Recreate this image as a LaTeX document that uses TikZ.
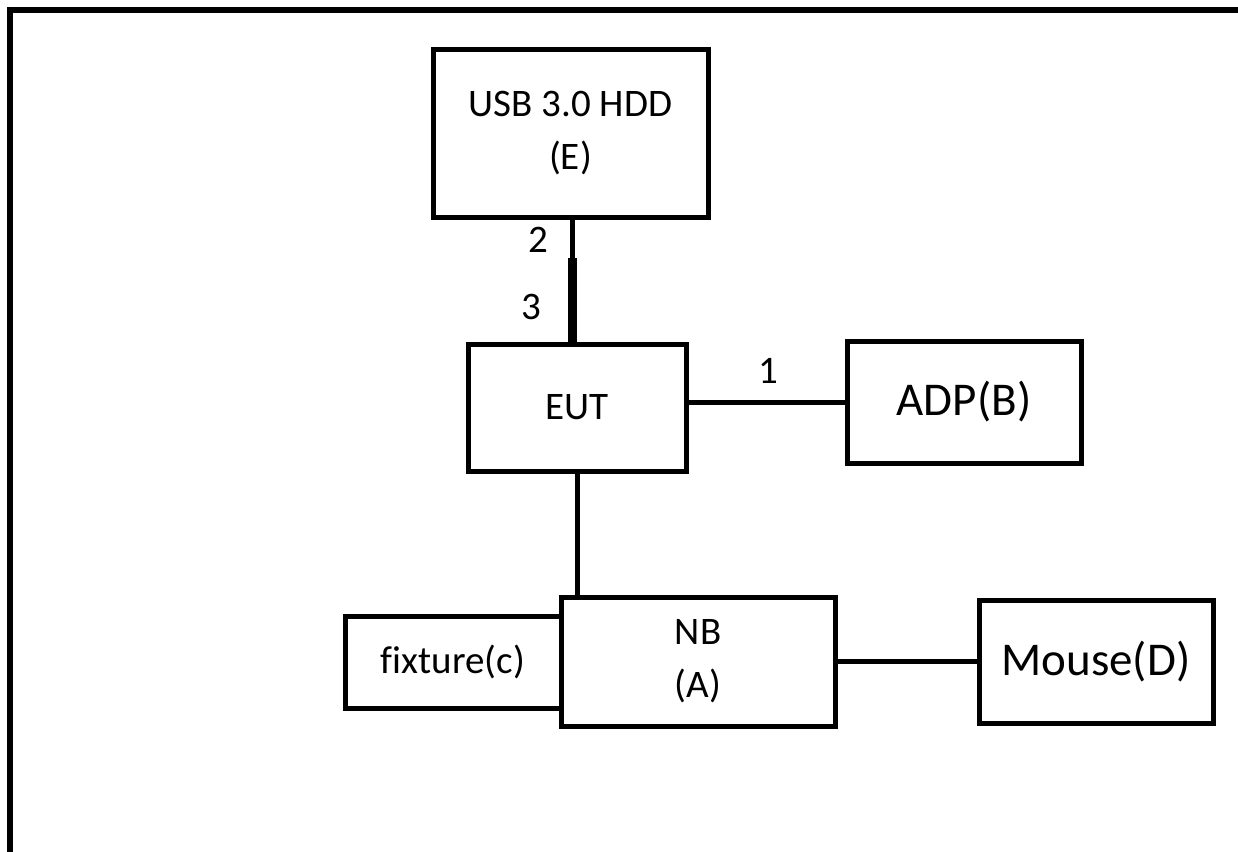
\documentclass[tikz,border=0pt]{standalone}
\usepackage{fontspec}
\setmainfont{Carlito}[Ligatures=NoCommon]
\usetikzlibrary{positioning}

\begin{document}
\begin{tikzpicture}[x=.5pt,y=-.5pt,
  box/.style={draw,line width=2.5pt,align=center,inner sep=0pt,
    font=\fontsize{19.5}{26.5}\selectfont},
  bigbox/.style={box,font=\fontsize{23.5}{28}\selectfont},
  cable/.style={line width=2.5pt},
  usbcable/.style={line width=4.5pt},
  lab/.style={font=\fontsize{19.5}{24}\selectfont}]
\useasboundingbox (0,0) rectangle (1238,852);
\draw[line width=3pt] (1238,10) -- (10,10) -- (10,852);
\node[box,minimum width=137.5pt,minimum height=84pt] (hdd) at (570.5,133) {USB 3.0 HDD\\(E)};
\node[box,minimum width=109pt,minimum height=63.5pt] (eut) at (577,407.5) {EUT};
\node[bigbox,minimum width=117pt,minimum height=61pt] (adp) at (964,402) {ADP(B)};
\node[box,minimum width=137pt,minimum height=64.5pt] (nb) at (698,661.5) {NB\\(A)};
\node[box,minimum width=108pt,minimum height=46pt] (fix) at (453,662) {fixture(c)};
\node[bigbox,minimum width=117pt,minimum height=61.5pt] (mouse) at (1096,661.5) {Mouse(D)};
% cables
\coordinate (usbjoin) at (572,258);
\draw[cable] (hdd.south -| usbjoin) -- (usbjoin);
\draw[usbcable] (usbjoin) -- (eut.north -| usbjoin);
\draw[cable] (adp.west -| eut.east) -- (adp.west);
\draw[cable] (eut.south) -- (eut.south |- nb.north);
\draw[cable] (nb.east) -- (mouse.west);
\node[lab] (n2) at (538,240) {2};
\node[lab] (n3) at (531,307) {3};
\node[lab] (n1) at (768,371) {1};
\end{tikzpicture}
\end{document}
